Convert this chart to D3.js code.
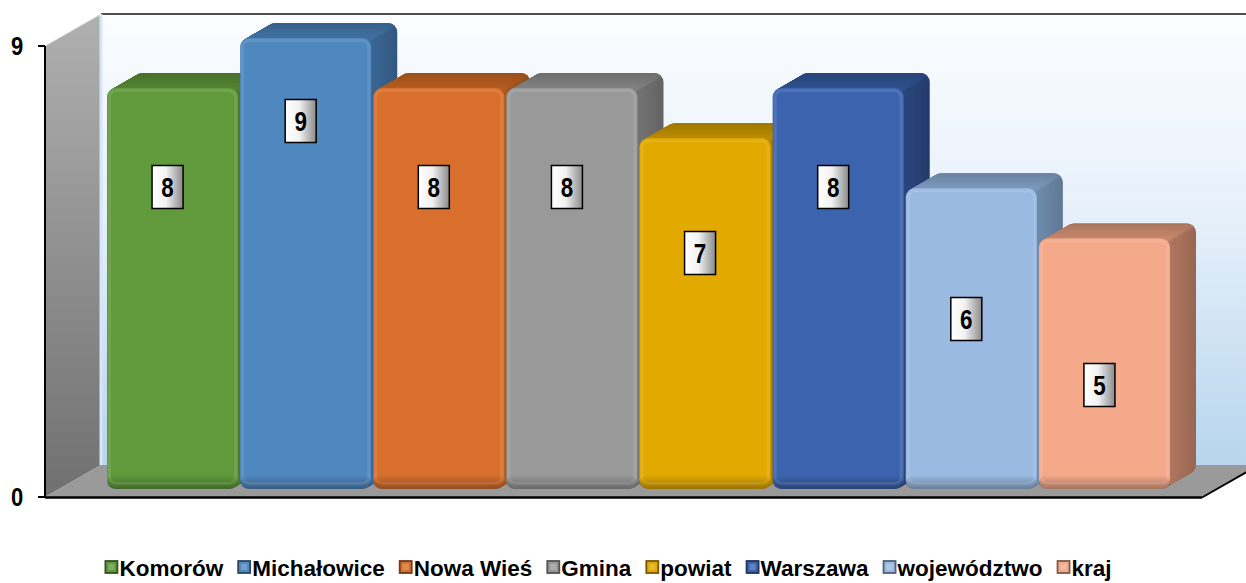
<!DOCTYPE html>
<html>
<head>
<meta charset="utf-8">
<script src="https://cdn.jsdelivr.net/npm/d3@7"></script>
<style>
  body { margin: 0; background: #ffffff; }
  svg { display: block; }
</style>
</head>
<body>
<script>
// ---------------- data ----------------
const series = ["Komorów", "Michałowice", "Nowa Wieś", "Gmina", "powiat", "Warszawa", "województwo", "kraj"];
const values = [8, 9, 8, 8, 7, 8, 6, 5];
const yTickValues = [0, 9];

// ---------------- styles ----------------
const frontColors = ["#609a3c", "#4f87bf", "#d86f2d", "#999999", "#e2a900", "#3c64ae", "#9abae2", "#f4a98a"];
const topColors   = ["#4e7c2f", "#3e6b98", "#a9571f", "#7b7b7b", "#b08400", "#2d4d86", "#7590b1", "#bd8268"];
const sideColors  = ["#466d29", "#345c86", "#97501c", "#686868", "#9a7400", "#263f71", "#647e9b", "#9e6b55"];

const W = 1246, H = 583;
const svg = d3.select("body").append("svg")
  .attr("width", W).attr("height", H)
  .style("font-family", "'Liberation Sans', Arial, Helvetica, sans-serif");
const defs = svg.append("defs");

function linGrad(id, x2, y2, stops) {
  const g = defs.append("linearGradient").attr("id", id)
    .attr("x1", 0).attr("y1", 0).attr("x2", x2).attr("y2", y2);
  stops.forEach(s => g.append("stop").attr("offset", s[0]).attr("stop-color", s[1]).attr("stop-opacity", s[2] == null ? 1 : s[2]));
}
linGrad("wallG", 0, 1, [[0, "#fbfdff"], [0.45, "#e6f0fa"], [1, "#b7d5ee"]]);
linGrad("sideWallG", 0, 1, [[0, "#b0b0b0"], [1, "#707070"]]);
linGrad("shadeB", 0, 1, [[0, "#000", 0], [1, "#000", 0.32]]);
linGrad("lblG", 1, 0, [[0, "#ffffff"], [0.45, "#f2f2f2"], [1, "#8a8a8a"]]);

// ---------------- geometry / scales ----------------
const plotFront = { x0: 45, x1: 1202 };
const wallDepth = { dx: 56, dy: -32 };
const y = d3.scaleLinear().domain([0, 9]).range([497, 46]);
const x = d3.scaleBand().domain(series).range([93, 1156]).paddingInner(0.015);
const barShift = { dx: 14, dy: -8 };
const barDepth = { dx: 26, dy: -15 };
const rr = 9;
const labelY = d3.scaleLinear().domain([5, 9]).range([385, 121]);

const yFloor = y(0), yTop = y(9);
const backX0 = plotFront.x0 + wallDepth.dx;
const backYTop = yTop + wallDepth.dy;
const backYFloor = yFloor + wallDepth.dy;

// ---------------- walls ----------------
svg.append("rect")
  .attr("x", backX0).attr("y", backYTop)
  .attr("width", W - backX0 + 30).attr("height", backYFloor - backYTop)
  .attr("fill", "url(#wallG)");

svg.append("polygon")
  .attr("points", [[plotFront.x0, yTop], [backX0, backYTop], [backX0, backYFloor], [plotFront.x0, yFloor]].map(p => p.join(",")).join(" "))
  .attr("fill", "url(#sideWallG)");

svg.append("polygon")
  .attr("points", [[plotFront.x0, yFloor], [plotFront.x1, yFloor], [plotFront.x1 + wallDepth.dx, backYFloor], [backX0, backYFloor]].map(p => p.join(",")).join(" "))
  .attr("fill", "#9a9a9a");

// edges
svg.append("line").attr("x1", backX0).attr("x2", W).attr("y1", backYTop).attr("y2", backYTop)
  .attr("stroke", "#4d4d4d").attr("stroke-width", 2);
svg.append("line").attr("x1", plotFront.x0).attr("y1", yTop).attr("x2", backX0).attr("y2", backYTop)
  .attr("stroke", "#e0e0e0").attr("stroke-width", 1);
svg.append("line").attr("x1", backX0).attr("y1", backYTop).attr("x2", backX0).attr("y2", backYFloor)
  .attr("stroke", "#d4e6f7").attr("stroke-width", 3);
svg.append("line").attr("x1", plotFront.x0).attr("x2", plotFront.x1).attr("y1", yFloor + 0.5).attr("y2", yFloor + 0.5)
  .attr("stroke", "#000").attr("stroke-width", 2.5);
svg.append("line").attr("x1", plotFront.x1).attr("y1", yFloor + 0.5).attr("x2", plotFront.x1 + wallDepth.dx).attr("y2", backYFloor + 0.5)
  .attr("stroke", "#000").attr("stroke-width", 2);

// y axis
svg.append("line").attr("x1", plotFront.x0).attr("x2", plotFront.x0).attr("y1", yTop).attr("y2", yFloor)
  .attr("stroke", "#000").attr("stroke-width", 2);
const ticks = svg.append("g");
ticks.selectAll("line").data(yTickValues).join("line")
  .attr("x1", plotFront.x0 - 7).attr("x2", plotFront.x0).attr("y1", d => y(d)).attr("y2", d => y(d))
  .attr("stroke", "#000").attr("stroke-width", 2);
ticks.selectAll("text").data(yTickValues).join("text")
  .attr("transform", d => `translate(17,${y(d)}) scale(0.88,1)`)
  .attr("dy", "0.36em")
  .attr("text-anchor", "middle").attr("font-size", 25).attr("font-weight", "bold")
  .text(d => d);

// ---------------- bars ----------------
function capPath(x0, yt, w) {
  const c = 0.7071;
  const x1 = x0 + w;
  return `M${x0},${yt + 2 * rr} L${x0},${yt + rr} A${rr},${rr} 0 0 1 ${x0 + rr},${yt} L${x1 - rr},${yt} ` +
         `A${rr},${rr} 0 0 1 ${x1 - rr + rr * c},${yt + rr - rr * c} L${x1 - rr + rr * c},${yt + 2 * rr} Z`;
}

const N = 26;
series.forEach((s, i) => {
  const v = values[i];
  const x0 = x(s) + barShift.dx;
  const w = x.bandwidth();
  const yt = y(v) + barShift.dy;
  const yb = y(0) + barShift.dy;
  const h = yb - yt;
  const g = svg.append("g");
  const topBack = d3.color(topColors[i]).darker(0.2);
  const topFront = d3.color(topColors[i]).brighter(0.25);
  const sideBack = d3.color(sideColors[i]).darker(0.1);
  const sideFront = d3.color(sideColors[i]).brighter(0.3);
  for (let k = N; k >= 1; k--) {
    const t = k / N;
    const ox = barDepth.dx * t, oy = barDepth.dy * t;
    g.append("rect")
      .attr("x", x0 + ox).attr("y", yt + oy).attr("width", w).attr("height", h)
      .attr("rx", rr).attr("ry", rr)
      .attr("fill", d3.interpolateRgb(sideFront, sideBack)(t));
    g.append("path")
      .attr("d", capPath(x0 + ox, yt + oy, w))
      .attr("fill", d3.interpolateRgb(topFront, topBack)(t));
  }
  // front face
  g.append("rect")
    .attr("x", x0).attr("y", yt).attr("width", w).attr("height", h)
    .attr("rx", rr).attr("ry", rr).attr("fill", frontColors[i]);
  g.append("rect")
    .attr("x", x0).attr("y", yb - 14).attr("width", w).attr("height", 14)
    .attr("rx", rr).attr("ry", rr).attr("fill", "url(#shadeB)");
  g.append("rect")
    .attr("x", x0 + 2.5).attr("y", yt + 2.5).attr("width", w - 5).attr("height", h - 8)
    .attr("rx", rr - 2).attr("ry", rr - 2)
    .attr("fill", "none").attr("stroke", "#fff").attr("stroke-opacity", 0.1).attr("stroke-width", 3);

  // data label
  const cx = x0 + w / 2 - 5, cy = labelY(v);
  g.append("rect")
    .attr("x", cx - 15.5).attr("y", cy - 21.5).attr("width", 31).attr("height", 43)
    .attr("fill", "url(#lblG)").attr("stroke", "#000").attr("stroke-width", 1.5);
  g.append("text")
    .attr("transform", `translate(${cx},${cy}) scale(0.8,1)`)
    .attr("dy", "0.36em").attr("text-anchor", "middle")
    .attr("font-size", 28).attr("font-weight", "bold").attr("fill", "#000")
    .text(d3.format("d")(v));
});

// ---------------- legend ----------------
const legend = svg.append("g");
const legendBaseline = 576, sq = 12, gap = 15;
const items = series.map((s, i) => {
  const it = legend.append("g");
  it.append("rect").attr("x", 0).attr("y", -sq - 3).attr("width", sq).attr("height", sq)
    .attr("fill", frontColors[i]).attr("stroke", d3.color(frontColors[i]).darker(1.8)).attr("stroke-width", 1.8);
  it.append("rect").attr("x", 3).attr("y", -sq).attr("width", sq - 6).attr("height", sq - 6)
    .attr("fill", "#fff").attr("fill-opacity", 0.2);
  const t = it.append("text").attr("x", sq + 2).attr("y", 0)
    .attr("font-size", 22.5).attr("font-weight", "bold").attr("fill", "#000").text(s);
  return { g: it, w: sq + 2 + t.node().getComputedTextLength() };
});
const total = d3.sum(items, d => d.w) + gap * (items.length - 1);
let cur = 608.5 - total / 2;
items.forEach(d => { d.g.attr("transform", `translate(${cur},${legendBaseline})`); cur += d.w + gap; });
</script>
</body>
</html>
